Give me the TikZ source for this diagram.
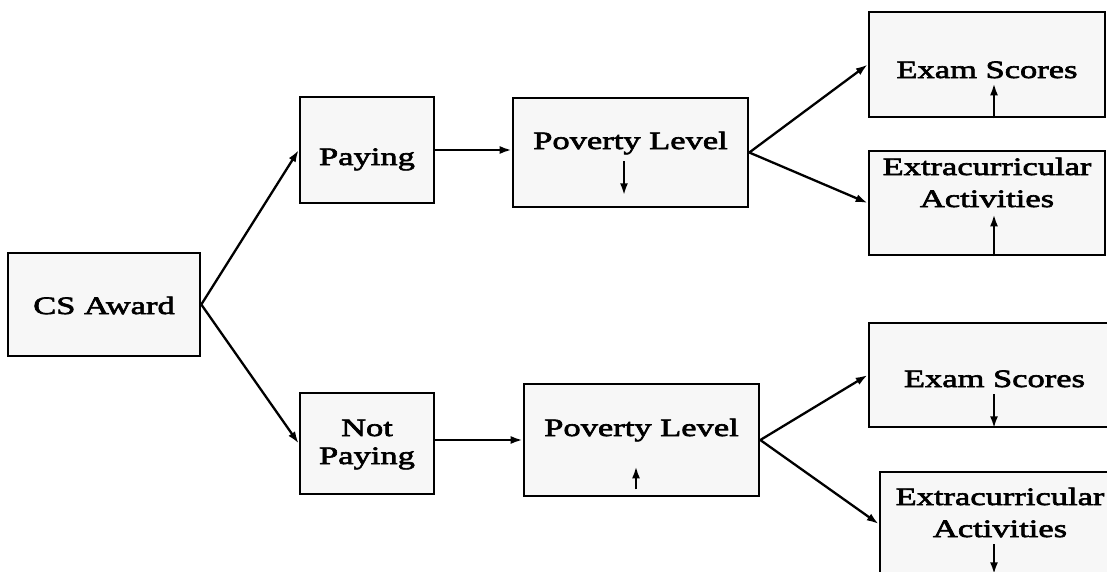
\documentclass[tikz,border=0pt]{standalone}
\usepackage{fontspec}
\usetikzlibrary{arrows.meta}
\setmainfont{Liberation Serif}[FakeStretch=1.38, FakeBold=2.6]
\begin{document}
\begin{tikzpicture}[x=1pt, y=-1pt,
    box/.style={draw, line width=2.6pt, fill=black!3, inner sep=0pt, align=center,
      font=\fontsize{25}{30}\selectfont},
    arr/.style={->, >={Latex[length=12pt, width=8pt]}, line width=2.3pt}]
    \useasboundingbox (0,0) rectangle (1107,571);
    \clip (0,0) rectangle (1107,571);

    \node[box, minimum width=192, minimum height=103, text height=19, text depth=0]
      (cs) at (104,304.5) {CS Award};
    \node[box, minimum width=134, minimum height=106, text height=30, text depth=0]
      (pay) at (367,150) {Paying};
    \node[box, minimum width=134, minimum height=101, text height=41, text depth=0,
      font=\fontsize{25}{28}\selectfont]
      (notpay) at (367,443.5) {Not\\Paying};
    \node[box, minimum width=235, minimum height=109, text height=0, text depth=7]
      (pov1) at (630.5,152.5) {Poverty Level};
    \node[box, minimum width=235, minimum height=112, text height=0, text depth=8]
      (pov2) at (641.5,440) {Poverty Level};
    \node[box, minimum width=236, minimum height=105, text height=27, text depth=0]
      (exam1) at (987,64.5) {Exam Scores};
    \node[box, minimum width=236, minimum height=104, text height=8, text depth=0,
      font=\fontsize{25}{32}\selectfont]
      (extra1) at (987,203) {Extracurricular\\Activities};
    \node[box, minimum width=251, minimum height=104, text height=24, text depth=0]
      (exam2) at (994.5,375) {Exam Scores};
    \node[box, minimum width=240, minimum height=104, text height=26, text depth=0,
      font=\fontsize{25}{32}\selectfont]
      (extra2) at (1000,524) {Extracurricular\\Activities};

    % award to paying / not paying
    \draw[arr] (cs.east) -- (pay.west);
    \draw[arr] (cs.east) -- (notpay.west);
    \draw[arr] (pay.east) -- (pay.east -| pov1.west);
    \draw[arr] (pov2.west -| notpay.east) -- (pov2.west);

    % poverty level to outcomes
    \draw[arr] (pov1.east) -- (exam1.west);
    \draw[arr] (pov1.east) -- (extra1.west);
    \draw[arr] (pov2.east) -- (exam2.west);
    \draw[arr] (pov2.east) -- (extra2.west);

    % direction of change
    \draw[arr] ([xshift=-6.5, yshift=47]pov1.south) -- ([xshift=-6.5, yshift=13]pov1.south);
    \draw[arr] ([xshift=-5.5, yshift=8]pov2.south) -- ([xshift=-5.5, yshift=31]pov2.south);
    \draw[arr] ([xshift=7]exam1.south) -- ([xshift=7, yshift=35]exam1.south);
    \draw[arr] ([xshift=7]extra1.south) -- ([xshift=7, yshift=42]extra1.south);
    \draw[arr] ([xshift=-0.5, yshift=34]exam2.south) -- ([xshift=-0.5]exam2.south);
    \draw[arr] ([xshift=-6, yshift=33]extra2.south) -- ([xshift=-6, yshift=3]extra2.south);
\end{tikzpicture}
\end{document}
